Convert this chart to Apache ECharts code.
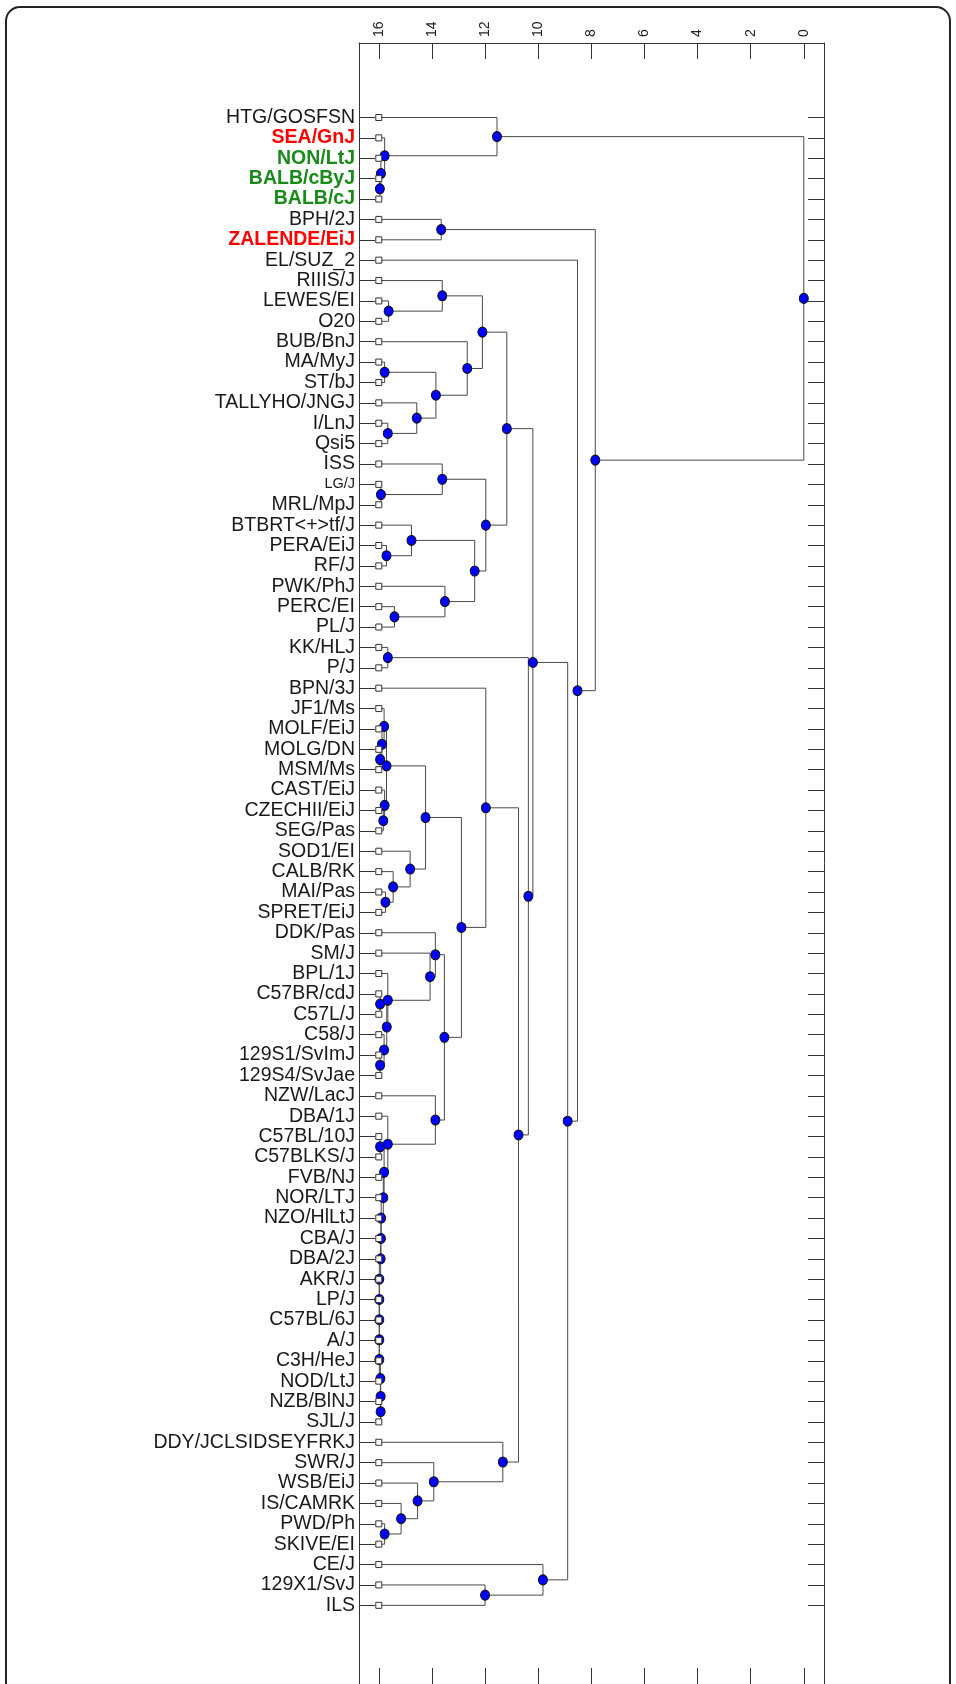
<!DOCTYPE html>
<html>
<head>
<meta charset="utf-8">
<script src="https://cdn.jsdelivr.net/npm/echarts/dist/echarts.min.js"></script>
<style>
  html, body { margin: 0; padding: 0; background: #fff; }
  #chart { width: 956px; height: 1684px; }
</style>
</head>
<body>
<div id="chart"></div>
<script>
// leaf labels, top to bottom
const leaves = [
    'HTG/GOSFSN', 'SEA/GnJ', 'NON/LtJ', 'BALB/cByJ', 'BALB/cJ', 'BPH/2J', 'ZALENDE/EiJ', 'EL/SUZ_2',
    'RIIIS/J', 'LEWES/EI', 'O20', 'BUB/BnJ', 'MA/MyJ', 'ST/bJ', 'TALLYHO/JNGJ', 'I/LnJ', 'Qsi5',
    'ISS', 'LG/J', 'MRL/MpJ', 'BTBRT<+>tf/J', 'PERA/EiJ', 'RF/J', 'PWK/PhJ', 'PERC/EI', 'PL/J',
    'KK/HLJ', 'P/J', 'BPN/3J', 'JF1/Ms', 'MOLF/EiJ', 'MOLG/DN', 'MSM/Ms', 'CAST/EiJ', 'CZECHII/EiJ',
    'SEG/Pas', 'SOD1/EI', 'CALB/RK', 'MAI/Pas', 'SPRET/EiJ', 'DDK/Pas', 'SM/J', 'BPL/1J', 'C57BR/cdJ',
    'C57L/J', 'C58/J', '129S1/SvImJ', '129S4/SvJae', 'NZW/LacJ', 'DBA/1J', 'C57BL/10J', 'C57BLKS/J',
    'FVB/NJ', 'NOR/LTJ', 'NZO/HlLtJ', 'CBA/J', 'DBA/2J', 'AKR/J', 'LP/J', 'C57BL/6J', 'A/J',
    'C3H/HeJ', 'NOD/LtJ', 'NZB/BlNJ', 'SJL/J', 'DDY/JCLSIDSEYFRKJ', 'SWR/J', 'WSB/EiJ', 'IS/CAMRK',
    'PWD/Ph', 'SKIVE/EI', 'CE/J', '129X1/SvJ', 'ILS'
];
const redLabels = ['SEA/GnJ', 'ZALENDE/EiJ'];
const greenLabels = ['NON/LtJ', 'BALB/cByJ', 'BALB/cJ'];
const smallLabels = ['LG/J'];

const leafHeight = 16;
const xTicks = [0, 2, 4, 6, 8, 10, 12, 14, 16];

// merges, bottom up: a string is a leaf, a number is an earlier merge row
const mergeLeft = [
    'BALB/cByJ', 'NON/LtJ', 'SEA/GnJ', 'HTG/GOSFSN', 'BPH/2J', 'LEWES/EI', 'RIIIS/J', 'MA/MyJ',
    'I/LnJ', 'TALLYHO/JNGJ', 7, 'BUB/BnJ', 6, 'LG/J', 'ISS', 'PERA/EiJ', 'BTBRT<+>tf/J', 'PERC/EI',
    'PWK/PhJ', 16, 14, 12, 'KK/HLJ', 'MOLG/DN', 'MOLF/EiJ', 'JF1/Ms', 'CZECHII/EiJ', 'CAST/EiJ', 25,
    'MAI/Pas', 'CALB/RK', 'SOD1/EI', 28, 'C57BR/cdJ', '129S1/SvImJ', 'C58/J', 33, 'BPL/1J', 'SM/J',
    'DDK/Pas', 'NZB/BlNJ', 'NOD/LtJ', 'C3H/HeJ', 'A/J', 'C57BL/6J', 'LP/J', 'AKR/J', 'DBA/2J',
    'CBA/J', 'NZO/HlLtJ', 'NOR/LTJ', 'FVB/NJ', 'C57BL/10J', 52, 'DBA/1J', 'NZW/LacJ', 39, 32,
    'BPN/3J', 'PWD/Ph', 'IS/CAMRK', 'WSB/EiJ', 'SWR/J', 'DDY/JCLSIDSEYFRKJ', 58, 22, 21,
    '129X1/SvJ', 'CE/J', 66, 'EL/SUZ_2', 4, 3
];
const mergeRight = [
    'BALB/cJ', 0, 1, 2, 'ZALENDE/EiJ', 'O20', 5, 'ST/bJ',
    'Qsi5', 8, 9, 10, 11, 'MRL/MpJ', 13, 'RF/J', 15, 'PL/J',
    17, 18, 19, 20, 'P/J', 'MSM/Ms', 23, 24, 'SEG/Pas', 26, 27,
    'SPRET/EiJ', 29, 30, 31, 'C57L/J', '129S4/SvJae', 34, 35, 36, 37,
    38, 'SJL/J', 40, 41, 42, 43, 44, 45, 46,
    47, 48, 49, 50, 'C57BLKS/J', 51, 53, 54, 55, 56,
    57, 'SKIVE/EI', 59, 60, 61, 62, 63, 64, 65,
    'ILS', 67, 68, 69, 70, 71
];
const mergeHeight = [
    15.96, 15.92, 15.78, 11.55, 13.65, 15.63, 13.61, 15.78,
    15.66, 14.57, 13.85, 12.67, 12.10, 15.92, 13.61, 15.71, 14.77, 15.41,
    13.51, 12.39, 11.97, 11.18, 15.66, 15.95, 15.88, 15.80, 15.83, 15.78, 15.71,
    15.75, 15.46, 14.82, 14.24, 15.95, 15.95, 15.80, 15.70, 15.66, 14.07,
    13.87, 15.93, 15.93, 15.94, 15.98, 15.98, 15.98, 15.98, 15.98,
    15.93, 15.92, 15.91, 15.83, 15.95, 15.80, 15.66, 13.87, 13.53, 12.89,
    11.97, 15.78, 15.16, 14.54, 13.93, 11.33, 10.74, 10.37, 10.20,
    12.00, 9.82, 8.89, 8.52, 7.85, 0
];

const leafIndex = {};
leaves.forEach((name, i) => { leafIndex[name] = i; });

let nodes = [];
let segments = [];
function place(ref) {
    if (typeof ref === 'number') return nodes[ref];
    return [leafHeight, leafIndex[ref]];
}
for (let i = 0; i < mergeHeight.length; i++) {
    let a = place(mergeLeft[i]);
    let b = place(mergeRight[i]);
    let h = mergeHeight[i];
    segments.push({ coords: [[a[0], a[1]], [h, a[1]], [h, b[1]], [b[0], b[1]]] });
    nodes.push([h, (a[1] + b[1]) / 2]);
}
let leafPoints = leaves.map((name, i) => [leafHeight, i]);
let leafTicks = leaves.map((name, i) => i);

function leafLabel(v) {
    let name = leaves[Math.round(v)];
    if (name === undefined) return '';
    if (redLabels.indexOf(name) >= 0) return '{r|' + name + '}';
    if (greenLabels.indexOf(name) >= 0) return '{g|' + name + '}';
    if (smallLabels.indexOf(name) >= 0) return '{s|' + name + '}';
    return '{n|' + name + '}';
}

let chart = echarts.init(document.getElementById('chart'), null, { renderer: 'canvas' });

const axisColor = '#333';
const font = 'Liberation Sans, Arial, sans-serif';
const yMin = -3.656;
const yMax = 76.86;
const xMin = -0.76;
const xMax = 16.745;

let axisLine = { show: true, onZero: false, lineStyle: { color: axisColor, width: 1 } };

let option = {
    backgroundColor: '#fff',
    animation: false,
    graphic: [{
        type: 'rect',
        shape: { x: 6, y: 7, width: 944, height: 1720, r: 14 },
        style: { fill: 'none', stroke: '#222', lineWidth: 2 },
        silent: true
    }],
    grid: { left: 359, top: 43, width: 465, height: 1645 },
    xAxis: [
        {
            type: 'value', position: 'top', inverse: true, min: xMin, max: xMax,
            axisLine: axisLine,
            axisTick: { show: true, inside: true, length: 16, customValues: xTicks, lineStyle: { color: axisColor } },
            axisLabel: {
                show: true, rotate: -90, margin: 6, customValues: xTicks,
                color: '#222', fontSize: 14, fontFamily: font
            },
            splitLine: { show: false }
        },
        {
            type: 'value', position: 'bottom', inverse: true, min: xMin, max: xMax,
            axisLine: axisLine,
            axisTick: { show: true, inside: true, length: 16, customValues: xTicks, lineStyle: { color: axisColor } },
            axisLabel: { show: false },
            splitLine: { show: false }
        }
    ],
    yAxis: [
        {
            type: 'value', position: 'left', inverse: true, min: yMin, max: yMax,
            axisLine: axisLine,
            axisTick: { show: true, inside: true, length: 16, customValues: leafTicks, lineStyle: { color: axisColor } },
            axisLabel: {
                show: true, margin: 4, customValues: leafTicks,
                formatter: leafLabel,
                rich: {
                    n: { color: '#1a1a1a', fontSize: 19.5, fontFamily: font },
                    s: { color: '#1a1a1a', fontSize: 14.5, fontFamily: font },
                    r: { color: '#ff0000', fontSize: 19.5, fontWeight: 'bold', fontFamily: font },
                    g: { color: '#1a8a1a', fontSize: 19.5, fontWeight: 'bold', fontFamily: font }
                }
            },
            splitLine: { show: false }
        },
        {
            type: 'value', position: 'right', inverse: true, min: yMin, max: yMax,
            axisLine: axisLine,
            axisTick: { show: true, inside: true, length: 16, customValues: leafTicks, lineStyle: { color: axisColor } },
            axisLabel: { show: false },
            splitLine: { show: false }
        }
    ],
    series: [
        {
            name: 'branches',
            type: 'lines',
            coordinateSystem: 'cartesian2d',
            xAxisIndex: 0,
            yAxisIndex: 0,
            polyline: true,
            silent: true,
            lineStyle: { color: '#4a4a4a', width: 1, opacity: 1 },
            data: segments,
            z: 2
        },
        {
            name: 'nodes',
            type: 'scatter',
            xAxisIndex: 0,
            yAxisIndex: 0,
            symbol: 'circle',
            symbolSize: [9, 10],
            itemStyle: { color: '#0000ff', borderColor: '#111', borderWidth: 1, opacity: 1 },
            data: nodes,
            z: 3
        },
        {
            name: 'leaves',
            type: 'scatter',
            xAxisIndex: 0,
            yAxisIndex: 0,
            symbol: 'rect',
            symbolSize: 6,
            itemStyle: { color: '#fff', borderColor: '#333', borderWidth: 1, opacity: 1 },
            data: leafPoints,
            z: 4
        }
    ]
};
chart.setOption(option);
</script>
</body>
</html>
